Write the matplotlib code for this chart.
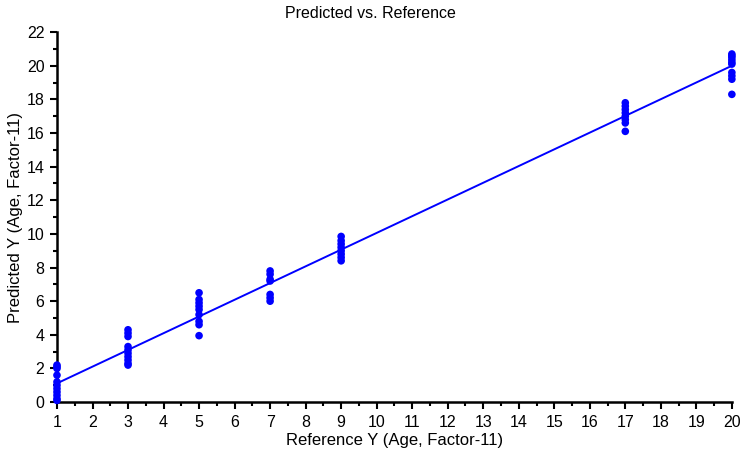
import numpy as np
import matplotlib
matplotlib.use("Agg")
import matplotlib.pyplot as plt
from matplotlib.ticker import MultipleLocator

plt.rcParams["font.family"] = ["Liberation Sans", "DejaVu Sans"]

# Reference vs predicted values, grouped by reference age
ref_levels = [1, 3, 5, 7, 9, 17, 20]
pred_groups = [
    [2.2, 2.1, 2.0, 1.6, 1.2, 1.0, 0.8, 0.6, 0.4, 0.2, 0.1],
    [4.3, 4.1, 3.9, 3.3, 3.1, 2.9, 2.7, 2.5, 2.3, 2.2],
    [6.5, 6.1, 5.9, 5.7, 5.5, 5.2, 4.8, 4.6, 3.95],
    [7.8, 7.6, 7.3, 7.2, 6.4, 6.2, 6.0],
    [9.85, 9.6, 9.4, 9.2, 9.0, 8.8, 8.6, 8.4],
    [17.8, 17.6, 17.4, 17.2, 17.0, 16.8, 16.6, 16.1],
    [20.7, 20.6, 20.5, 20.35, 20.2, 20.1, 19.6, 19.4, 19.2, 18.3],
]

# regression line of predicted on reference
fit_slope = 0.994
fit_offset = 0.12

x_pts = np.concatenate([[r] * len(g) for r, g in zip(ref_levels, pred_groups)])
y_pts = np.concatenate(pred_groups)

fig = plt.figure(figsize=(7.4, 4.59), dpi=100)
ax = fig.add_axes([0.077, 0.124, 0.912, 0.806])

x_line = np.array([1, 20])
ax.plot(x_line, fit_slope * x_line + fit_offset, color="#0000ff", lw=1.4, zorder=2)
ax.scatter(x_pts, y_pts, s=30, color="#0000ff", edgecolors="none", zorder=3, clip_on=False)

ax.set_xlim(1, 20)
ax.set_ylim(0, 22)
ax.xaxis.set_major_locator(MultipleLocator(1))
ax.xaxis.set_minor_locator(MultipleLocator(0.5))
ax.yaxis.set_major_locator(MultipleLocator(2))
ax.yaxis.set_minor_locator(MultipleLocator(1))

for side in ("top", "right"):
    ax.spines[side].set_visible(False)
for side in ("left", "bottom"):
    ax.spines[side].set_linewidth(1.8)

ax.tick_params(which="major", direction="out", length=5, width=1.5, labelsize=11.5, pad=4)
ax.tick_params(which="minor", direction="out", length=3, width=1.5)

ax.set_xlabel("Reference Y (Age, Factor-11)", fontsize=12)
ax.set_ylabel("Predicted Y (Age, Factor-11)", fontsize=12)
ax.xaxis.set_label_coords(0.5, -0.103, transform=ax.transAxes)
ax.yaxis.set_label_coords(-0.062, 0.5, transform=ax.transAxes)
ax.xaxis.label.set_va("center")
ax.yaxis.label.set_va("center")
fig.suptitle("Predicted vs. Reference", fontsize=11.5, y=0.988)

fig.savefig("out.png", dpi=100)
